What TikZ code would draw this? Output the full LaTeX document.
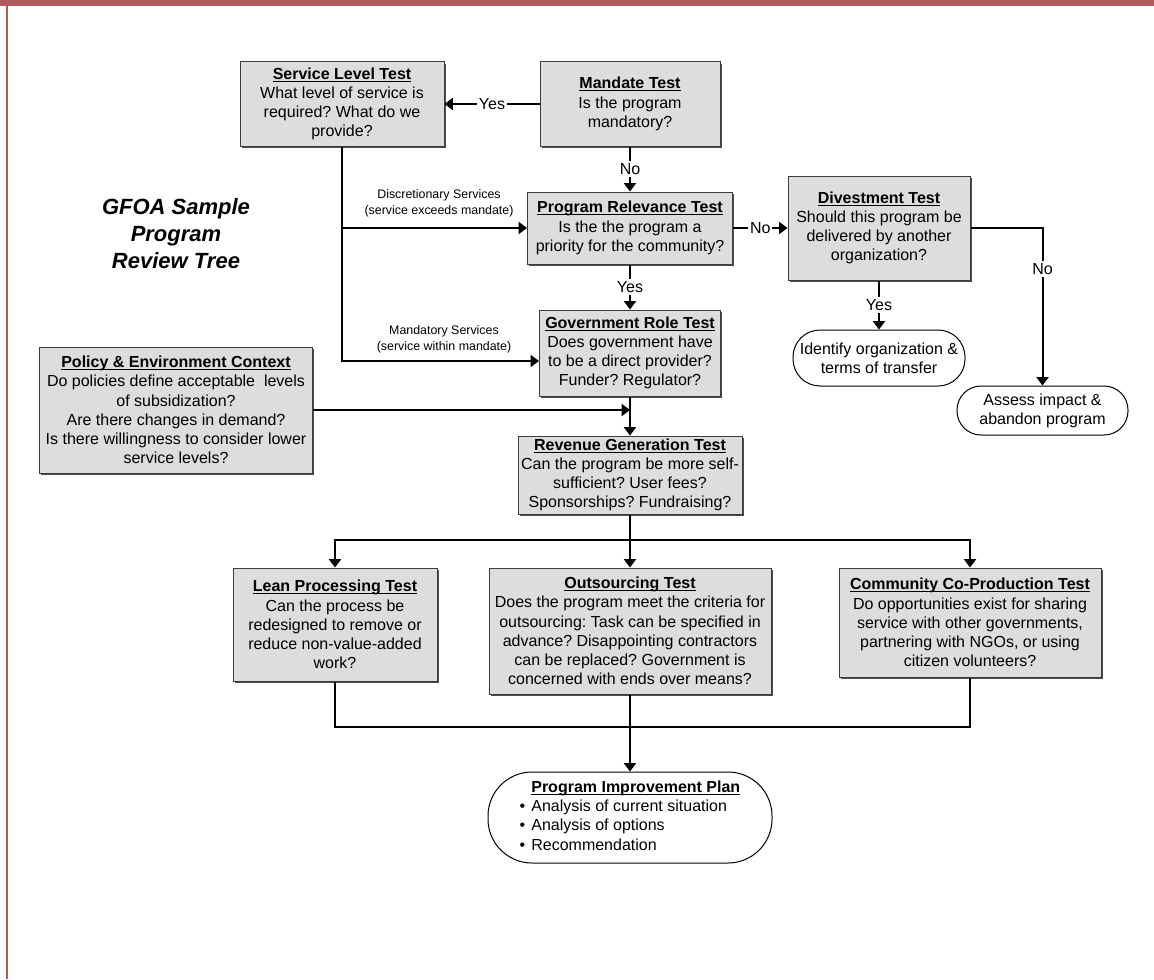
\documentclass[tikz,border=0pt]{standalone}
\usepackage{fontspec}
\setmainfont{Liberation Sans}
\usepackage{xcolor}
\usepackage{tikz}
\usetikzlibrary{positioning, calc, arrows.meta, shadows}
\definecolor{framered}{RGB}{176, 92, 92}
\definecolor{boxgray}{RGB}{221, 221, 221}
\definecolor{boxline}{RGB}{60, 60, 60}
\frenchspacing
\newsavebox{\ttlbox}
\newcommand{\ttl}[1]{\sbox{\ttlbox}{\textbf{#1}}\rlap{\rule[-1.2pt]{\wd\ttlbox}{0.55pt}}\usebox{\ttlbox}}
\tikzset{
    testbox/.style={
        draw=boxline, fill=boxgray, line width=0.5pt, align=center,
        inner sep=1pt, font=\fontsize{8}{9.6}\selectfont,
        drop shadow={shadow xshift=0.8pt, shadow yshift=-0.8pt, fill=black!70, opacity=1}
    },
    endbox/.style={
        draw=black, fill=white, line width=0.5pt, align=center,
        inner sep=1pt, font=\fontsize{8}{9.6}\selectfont
    },
    ptr/.style={
        -{Triangle[width=6pt,length=4.2pt]}, line width=1pt
    },
    link/.style={
        line width=1pt
    }
}

\begin{document}
\begin{tikzpicture}[
        x=0.5pt, y=-0.5pt,
        % label on a connector
        ans/.style={fill=white, inner sep=1pt, font=\fontsize{8}{9.6}\selectfont},
        % small side notes
        note/.style={align=center, font=\fontsize{6.2}{7.8}\selectfont},
        % title at the left
        bigtitle/.style={align=center, font=\fontsize{11}{13.5}\selectfont\bfseries\itshape}
    ]

        % ==========================================
        % PAGE FRAME
        % ==========================================
        \useasboundingbox (0,0) rectangle (1154,979);
        \fill[white] (0,0) rectangle (1154,979);
        \fill[framered] (0,0) rectangle (1154,6);
        \draw[framered, line width=1pt] (7,0) -- (7,979);

        % ==========================================
        % TOP ROW
        % ==========================================
        \node[testbox, minimum width=102pt, minimum height=42pt] (service) at (342,104) {
            \ttl{Service Level Test}\\What level of service is\\required? What do we\\provide?
        };
        \node[testbox, minimum width=90pt, minimum height=42pt] (mandate) at (630,104) {
            \ttl{Mandate Test}\\Is the program\\mandatory?
        };

        \node[bigtitle] (title) at (176,234) {GFOA Sample\\Program\\Review Tree};

        % ==========================================
        % MIDDLE ROW
        % ==========================================
        \node[testbox, minimum width=102.5pt, minimum height=36pt] (relevance) at (630,228) {
            \ttl{Program Relevance Test}\\Is the the program a\\priority for the community?
        };
        \node[testbox, minimum width=91pt, minimum height=52pt] (divest) at (879,228) {
            \ttl{Divestment Test}\\Should this program be\\delivered by another\\organization?
        };
        \node[endbox, minimum width=86pt, minimum height=28pt, rounded corners=13.5pt] (identify) at (879,358) {
            Identify organization \&\\terms of transfer
        };
        \node[endbox, minimum width=85.5pt, minimum height=24.5pt, rounded corners=12pt] (assess) at (1042.5,410.5) {
            Assess impact \&\\abandon program
        };
        \node[testbox, minimum width=90.5pt, minimum height=43pt] (govrole) at (630,353) {
            \ttl{Government Role Test}\\Does government have\\to be a direct provider?\\Funder? Regulator?
        };
        \node[testbox, minimum width=136.5pt, minimum height=63pt] (policy) at (176,410) {
            \ttl{Policy \& Environment Context}\\Do policies define acceptable\ \ levels\\of subsidization?\\Are there changes in demand?\\Is there willingness to consider lower\\service levels?
        };
        \node[testbox, minimum width=112pt, minimum height=39pt] (revenue) at (630,475) {
            \ttl{Revenue Generation Test}\\Can the program be more self-\\sufficient? User fees?\\Sponsorships? Fundraising?
        };

        % side notes
        \node[note] (discnote) at (439,203) {Discretionary Services\\(service exceeds mandate)};
        \node[note] (mandnote) at (444,339) {Mandatory Services\\(service within mandate)};

        % ==========================================
        % BOTTOM ROW
        % ==========================================
        \node[testbox, minimum width=102pt, minimum height=56.5pt] (lean) at (335,624.5) {
            \ttl{Lean Processing Test}\\Can the process be\\redesigned to remove or\\reduce non-value-added\\work?
        };
        \node[testbox, minimum width=141pt, minimum height=63pt] (outsource) at (630,631) {
            \ttl{Outsourcing Test}\\Does the program meet the criteria for\\outsourcing: Task can be specified in\\advance? Disappointing contractors\\can be replaced? Government is\\concerned with ends over means?
        };
        \node[testbox, minimum width=131pt, minimum height=54.5pt] (community) at (970,622.5) {
            \ttl{Community Co-Production Test}\\Do opportunities exist for sharing\\service with other governments,\\partnering with NGOs, or using\\citizen volunteers?
        };
        \node[endbox, minimum width=142pt, minimum height=45.5pt, rounded corners=22pt] (plan) at (630,817.5) {%
            \begin{tabular}{@{}l@{\hspace{3pt}}l@{}}
                & \ttl{Program Improvement Plan}\\
                \textbullet & Analysis of current situation\\
                \textbullet & Analysis of options\\
                \textbullet & Recommendation
            \end{tabular}%
        };

        % ==========================================
        % CONNECTORS
        % ==========================================
        \draw[ptr] (mandate.west) -- node[ans] {Yes} (service.east);
        \draw[ptr] (mandate.south) -- node[ans] {No} (relevance.north);
        \draw[ptr] (relevance.south) -- node[ans] {Yes} (govrole.north);
        \draw[ptr] (relevance.east) -- node[ans] {No} (divest.west);
        \draw[ptr] (divest.south) -- node[ans] {Yes} (identify.north);
        \draw[ptr] (divest.east) -| node[ans, pos=0.63] {No} (assess.north);

        % service level branches
        \draw[ptr] (service.south) |- ([yshift=-4pt]govrole.west);
        \draw[ptr] (service.south |- relevance.west) -- (relevance.west);

        % context feeds the main line
        \draw[ptr] (policy.east) -- (policy.east -| govrole.south);
        \draw[ptr] (govrole.south) -- (revenue.north);

        % split to the three tests
        \coordinate (split) at (630,540);
        \draw[link] (revenue.south) -- (split);
        \draw[ptr] (split) -- (outsource.north);
        \draw[ptr] (split) -| (lean.north);
        \draw[ptr] (split) -| (community.north);

        % merge into the plan
        \coordinate (merge) at (630,727);
        \draw[link] (lean.south) |- (merge) -| (community.south);
        \draw[ptr] (outsource.south) -- (plan.north);

    \end{tikzpicture}
\end{document}
